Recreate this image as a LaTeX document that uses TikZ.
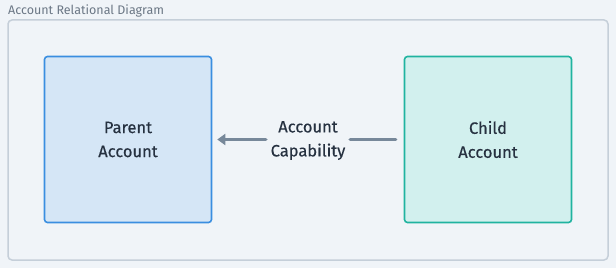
\documentclass[tikz,border=0pt]{standalone}
\usepackage{fontspec}
\setmainfont{Fira Sans}
\newfontface\labelface{Fira Sans}[FakeBold=0.35]
\usetikzlibrary{positioning,arrows.meta}
\definecolor{pagebg}{HTML}{F0F4F8}
\definecolor{groupline}{HTML}{C5CFD9}
\definecolor{titlegray}{HTML}{6B7785}
\definecolor{parentline}{HTML}{3A8EE0}
\definecolor{parentfill}{HTML}{D5E6F6}
\definecolor{childline}{HTML}{20B3A0}
\definecolor{childfill}{HTML}{D2F0EE}
\definecolor{linkgray}{HTML}{77889A}
\definecolor{textdark}{HTML}{263140}
\tikzset{
  bodytext/.style={text=textdark, align=center,
    font=\labelface\fontsize{16.5}{24}\selectfont},
  acctbox/.style={bodytext, draw, line width=1.6pt, rounded corners=3pt,
    minimum width=167pt, minimum height=166pt},
  linkline/.style={draw=linkgray, line width=3.5pt, line cap=round},
}
\begin{document}
\begin{tikzpicture}[x=1pt,y=1pt]
  % page and group frame
  \fill[pagebg] (0,0) rectangle (616,268);
  \useasboundingbox (0,0) rectangle (616,268);
  \draw[groupline, line width=1.5pt, rounded corners=4pt] (8,8) rectangle (608,248);
  \node[anchor=base west, inner sep=0pt, text=titlegray,
    font=\fontsize{12.5}{14}\selectfont] (title) at (8,253) {Account Relational Diagram};

  % accounts
  \node[acctbox, draw=parentline, fill=parentfill] (parent) at (128,128.5) {Parent\\Account};
  \node[acctbox, draw=childline, fill=childfill] (child) at (488,128.5) {Child\\Account};

  % relation
  \node[bodytext, inner sep=0pt, minimum width=84pt] (cap) at (308,127.5) {Account\\Capability};
  \draw[linkline] ([xshift=-8pt]child.west) -- (cap.east |- child.west);
  \draw[linkline, -{Triangle[length=8pt,width=11pt]}] (cap.west |- parent.east) -- ([xshift=5pt]parent.east);
\end{tikzpicture}
\end{document}
